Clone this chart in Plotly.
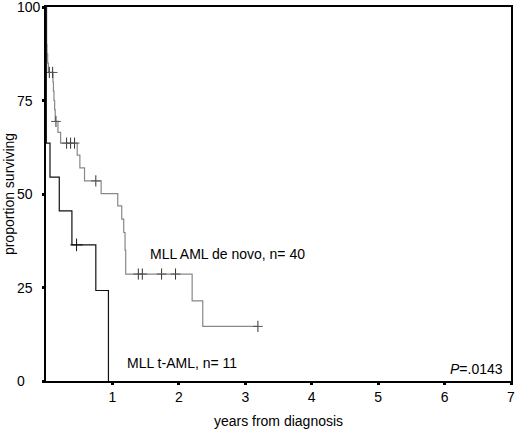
import plotly.graph_objects as go

# MLL AML de novo (n=40): step times (years) and proportion surviving (%)
denovo_t = [0, 0.01, 0.015, 0.025, 0.035, 0.105, 0.112, 0.12, 0.13, 0.139, 0.18, 0.22,
            0.47, 0.51, 0.58, 0.83, 1.08, 1.14, 1.17, 1.19, 1.2, 2.2, 2.36, 3.19]
denovo_s = [100, 90, 87.5, 85, 82.5, 80, 77.5, 75, 72.5, 69.4, 66.5, 63.6,
            60.4, 57.0, 53.5, 50.1, 46.8, 43.3, 39.7, 35.0, 28.6, 21.4, 14.6, 14.6]
denovo_cens_t = [0.05, 0.10, 0.15, 0.31, 0.37, 0.43, 0.75, 1.39, 1.45, 1.74, 1.95, 3.19]
denovo_cens_s = [82.5, 82.5, 69.4, 63.6, 63.6, 63.6, 53.5, 28.6, 28.6, 28.6, 28.6, 14.6]

# MLL t-AML (n=11)
taml_t = [0, 0.005, 0.06, 0.2, 0.39, 0.75, 0.94]
taml_s = [100, 63.6, 54.5, 45.5, 36.4, 24.2, 0]
taml_cens_t = [0.46]
taml_cens_s = [36.4]

x_ticks = [1, 2, 3, 4, 5, 6, 7]
y_ticks = [0, 25, 50, 75, 100]

FONT = "Liberation Sans, Arial, sans-serif"

fig = go.Figure()
fig.add_trace(go.Scatter(x=denovo_t, y=denovo_s, mode='lines', line_shape='hv',
                         line=dict(color='#888888', width=1.2), showlegend=False))
fig.add_trace(go.Scatter(x=denovo_cens_t, y=denovo_cens_s, mode='markers',
                         marker=dict(symbol='line-ns', size=8, line=dict(color='#333333', width=1)),
                         showlegend=False))
fig.add_trace(go.Scatter(x=denovo_cens_t, y=denovo_cens_s, mode='markers',
                         marker=dict(symbol='line-ew', size=7, line=dict(color='#555555', width=1)),
                         showlegend=False))
fig.add_trace(go.Scatter(x=taml_t, y=taml_s, mode='lines', line_shape='hv',
                         line=dict(color='#111111', width=1.2), showlegend=False))
fig.add_trace(go.Scatter(x=taml_cens_t, y=taml_cens_s, mode='markers',
                         marker=dict(symbol='cross-thin', size=9, line=dict(color='#111111', width=1)),
                         showlegend=False))

# left-aligned y tick labels
for v in y_ticks:
    fig.add_annotation(x=-0.066, xref='paper', y=v, yref='y', text=str(v), showarrow=False,
                       xanchor='left', font=dict(size=14, color='black', family=FONT))

fig.add_annotation(x=1.54, y=34, text='MLL AML de novo, n= 40', showarrow=False, xanchor='left',
                   font=dict(size=14, color='black', family=FONT))
fig.add_annotation(x=1.19, y=4.8, text='MLL t-AML, n= 11', showarrow=False, xanchor='left',
                   font=dict(size=14, color='black', family=FONT))
fig.add_annotation(x=6.91, y=3.2, text='<i>P</i>=.0143', showarrow=False, xanchor='right',
                   font=dict(size=14, color='black', family=FONT))

fig.update_xaxes(range=[0, 7], tickvals=x_ticks, ticks='outside', ticklen=2, tickwidth=3,
                 tickcolor='black', showline=True, linecolor='black', linewidth=2, mirror=True,
                 showgrid=False, zeroline=False, ticklabelstandoff=0,
                 tickfont=dict(size=14, color='black', family=FONT),
                 title=dict(text='years from diagnosis', standoff=12,
                            font=dict(size=14, color='black', family=FONT)))
fig.update_yaxes(range=[0, 100], tickvals=y_ticks, ticks='outside', ticklen=2, tickwidth=3,
                 tickcolor='black', showline=True, linecolor='black', linewidth=2, mirror=True,
                 showgrid=False, zeroline=False, showticklabels=False,
                 title=dict(text='proportion surviving', standoff=24,
                            font=dict(size=14, color='black', family=FONT)))
fig.update_layout(width=520, height=439, margin=dict(l=46, r=5, t=5, b=58),
                  plot_bgcolor='white', paper_bgcolor='white')

# drop the browser's default body margin so the figure fills the window
fig.write_html("out.html", config={'displayModeBar': False},
               post_script="document.body.style.margin='0';document.body.style.overflow='hidden';")
